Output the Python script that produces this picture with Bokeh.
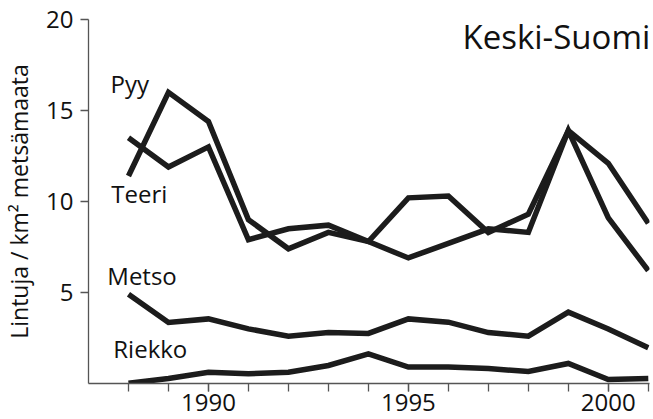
from bokeh.plotting import figure
from bokeh.models import Range1d, FixedTicker, Label
from bokeh.embed import file_html
from bokeh.resources import INLINE

years = list(range(1988, 2002))
pyy = [11.4, 16.0, 14.4, 9.0, 7.4, 8.3, 7.8, 10.2, 10.3, 8.3, 9.3, 13.9, 12.1, 8.8]
teeri = [13.5, 11.9, 13.0, 7.9, 8.5, 8.7, 7.8, 6.9, 7.7, 8.5, 8.3, 13.9, 9.1, 6.2]
metso = [4.9, 3.35, 3.55, 3.0, 2.6, 2.8, 2.75, 3.55, 3.37, 2.8, 2.6, 3.92, 3.0, 1.97]
riekko = [0.02, 0.27, 0.62, 0.54, 0.62, 0.99, 1.63, 0.9, 0.9, 0.82, 0.66, 1.1, 0.22, 0.27]

major_x = [1990, 1995, 2000]
minor_x = list(range(1988, 2002))
y_ticks = [5, 10, 15, 20]

FONT = "Open Sans"
INK = "#1c1c1c"

p = figure(width=653, height=419, output_backend="svg", toolbar_location=None,
           x_range=Range1d(1987, 2001.03), y_range=Range1d(0, 20),
           min_border_left=88, min_border_right=4, min_border_top=19, min_border_bottom=36)
p.outline_line_color = None
p.xgrid.grid_line_color = None
p.ygrid.grid_line_color = None
p.background_fill_color = "white"
p.border_fill_color = "white"

for series in (pyy, teeri, metso, riekko):
    p.line(years, series, line_width=5.5, line_color=INK, line_join="miter")

p.xaxis.ticker = FixedTicker(ticks=major_x, minor_ticks=minor_x)
p.yaxis.ticker = FixedTicker(ticks=y_ticks, minor_ticks=[])
for ax in (p.xaxis, p.yaxis):
    ax.axis_line_color = "#555555"
    ax.axis_line_width = 1.3
    ax.major_tick_line_color = "#555555"
    ax.minor_tick_line_color = "#555555"
    ax.major_tick_line_width = 1.3
    ax.minor_tick_line_width = 1.3
    ax.major_tick_in = 0
    ax.minor_tick_in = 0
    ax.major_tick_out = 8
    ax.minor_tick_out = 8
    ax.major_label_text_font = FONT
    ax.major_label_text_font_size = "24px"
    ax.major_label_text_color = "#111111"
p.yaxis.minor_tick_out = 0
p.xaxis.major_label_standoff = 2
p.yaxis.major_label_standoff = 7
p.yaxis.axis_label = "Lintuja / km² metsämaata"
p.yaxis.axis_label_text_font = FONT
p.yaxis.axis_label_text_font_size = "23px"
p.yaxis.axis_label_text_font_style = "normal"
p.yaxis.axis_label_text_color = "#111111"
p.yaxis.axis_label_standoff = 8

labels = [("Pyy", 1987.55, 16.48), ("Teeri", 1987.57, 10.44),
          ("Metso", 1987.47, 5.93), ("Riekko", 1987.62, 1.92)]
for txt, lx, ly in labels:
    p.add_layout(Label(x=lx, y=ly, text=txt, text_font=FONT, text_font_size="24px",
                       text_color="#111111", text_baseline="alphabetic"))
p.add_layout(Label(x=2001.05, y=19.05, text="Keski-Suomi", text_font=FONT,
                   text_font_size="33px", text_color="#111111",
                   text_align="right", text_baseline="alphabetic"))

open("out.html", "w").write(file_html(p, INLINE))
